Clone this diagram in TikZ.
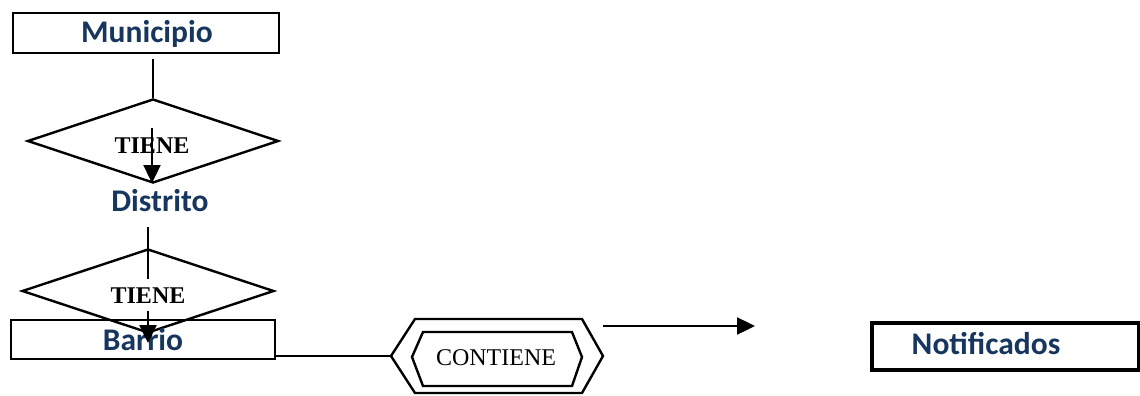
\documentclass[tikz,border=0pt]{standalone}
\usepackage{fontspec}
\usetikzlibrary{shapes.geometric,arrows.meta}
\newfontfamily\entfont{Carlito}
\newfontfamily\relfont{Liberation Serif}
\definecolor{entityblue}{HTML}{17365D}

\begin{document}
\begin{tikzpicture}[x=1pt,y=-1pt,
  box/.style={draw=black, line width=2.4pt, inner sep=0pt, rectangle},
  rel/.style={draw=black, line width=2.4pt, diamond, inner sep=0pt,
    minimum width=251pt, minimum height=84pt},
  ent/.style={font=\entfont\bfseries\fontsize{31.5}{36}\selectfont,
    text=entityblue, inner sep=0pt},
  reltext/.style={font=\relfont\bfseries\fontsize{24}{28}\selectfont,
    inner sep=0pt},
  link/.style={draw=black, line width=2.4pt},
  arr/.style={link, -{Triangle[length=18pt,width=17pt]}}]
\useasboundingbox (0,0) rectangle (1140,396);

% Municipio
\node[box, minimum width=266pt, minimum height=40pt] (mun) at (146,33) {};
\node[ent, anchor=base] (munt) at (147,43) {Municipio};

% first TIENE relationship
\node[rel] (d1) at (153,141) {};
\coordinate (m1) at (153,59);
\draw[link] (m1) -- (d1.north);
\node[reltext, anchor=base] (t1) at (152,153) {TIENE};
\coordinate (a1) at (152,128);
\coordinate (a1tip) at (152,183);
\draw[arr] (a1) -- (a1tip);

% Distrito
\node[ent, anchor=base] (dis) at (160,211) {Distrito};

% second TIENE relationship and Barrio
\node[rel, minimum width=252pt] (d2) at (148,291) {};
\node[box, minimum width=264pt, minimum height=39pt] (bar) at (143,339.5) {};
\node[ent, anchor=base] (bart) at (143,350) {Barrio};
\coordinate (dsrc) at (148,227);
\coordinate (btip) at (148,343);
\draw[arr] (dsrc) -- (btip);
\node[reltext, anchor=base, fill=white, inner ysep=8pt, inner xsep=1pt] (t2) at (148,303) {TIENE};

% CONTIENE double hexagon
\node[font=\relfont\fontsize{24}{28}\selectfont, inner sep=0pt, anchor=base] (cont) at (496,365) {CONTIENE};
\draw[link] (391,356) -- (415,319) -- (582,319) -- (603,356) -- (582,393) -- (415,393) -- cycle;
\draw[link] (412,357) -- (423,332) -- (572,332) -- (582,357) -- (572,386) -- (423,386) -- cycle;
\coordinate (barE) at (275,356);
\coordinate (hexW) at (391,356);
\draw[link] (barE) -- (hexW);
\coordinate (hexNE) at (603,326);
\coordinate (free) at (755,326);
\draw[arr] (hexNE) -- (free);

% Notificados
\node[box, line width=3.2pt, minimum width=267pt, minimum height=47pt] (not) at (1005.5,346.5) {};
\node[ent, anchor=base] (nott) at (986,354) {Notificados};
\end{tikzpicture}
\end{document}
